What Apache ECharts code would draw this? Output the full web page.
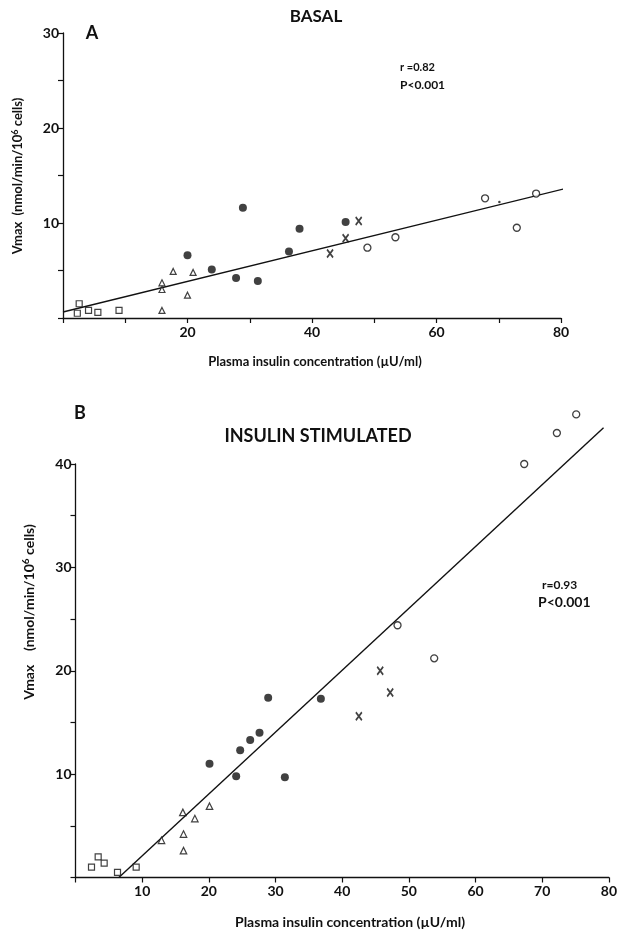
<!DOCTYPE html>
<html>
<head>
<meta charset="utf-8">
<script src="https://cdn.jsdelivr.net/npm/echarts@6/dist/echarts.min.js"></script>
<style>
html,body{margin:0;padding:0;background:#fff;}
#chart{width:620px;height:935px;}
</style>
</head>
<body>
<div id="chart"></div>
<script>
// ---- Panel A: BASAL ----
var basalSquares   = [[2.6,1.5],[2.3,0.5],[4.1,0.8],[5.6,0.6],[9.0,0.8]];
var basalTriangles = [[15.9,3.7],[15.9,3.0],[15.9,0.8],[17.7,4.9],[20.9,4.8],[20.0,2.4]];
var basalFilled    = [[20.0,6.6],[23.9,5.1],[27.8,4.2],[28.9,11.6],[31.3,3.9],[36.3,7.0],[38.0,9.4],[45.4,10.1]];
var basalCross     = [[42.9,6.8],[45.4,8.4],[47.5,10.2]];
var basalOpen      = [[48.9,7.4],[53.4,8.5],[67.8,12.6],[72.9,9.5],[76.0,13.1]];
var basalDot       = [[70.1,12.2]];
var basalFit       = [[0,0.63],[83,14.0]];
var basalXTicks    = [20,40,60,80];
var basalYTicks    = [10,20,30];

// ---- Panel B: INSULIN STIMULATED ----
var stimSquares   = [[2.4,1.0],[3.4,2.0],[4.3,1.4],[6.3,0.5],[9.1,1.0]];
var stimTriangles = [[12.9,3.6],[16.1,6.3],[16.2,4.2],[16.2,2.6],[17.9,5.7],[20.1,6.9]];
var stimFilled    = [[20.1,11.0],[24.1,9.8],[24.7,12.3],[26.2,13.3],[27.6,14.0],[28.9,17.4],[31.4,9.7],[36.8,17.3]];
var stimCross     = [[42.5,15.6],[45.7,20.0],[47.2,17.9]];
var stimOpen      = [[48.3,24.4],[53.8,21.2],[67.3,40.0],[72.2,43.0],[75.1,44.8]];
var stimFit       = [[6.5,0],[79.2,43.5]];
var stimXTicks    = [10,20,30,40,50,60,70,80];
var stimYTicks    = [10,20,30,40];

var FONT = 'Lato, "Open Sans", sans-serif';
var chart = echarts.init(document.getElementById('chart'), null, {renderer:'canvas'});

function axisCommon(labels){
  return {
    type:'value',
    axisLine:{show:true,onZero:false,lineStyle:{color:'#111',width:1.3}},
    axisTick:{show:true,length:5,lineStyle:{color:'#111',width:1.2}},
    splitLine:{show:false},
    axisLabel:{color:'#111',fontFamily:FONT,fontWeight:'bold',fontSize:14,margin:7,
      formatter:function(v){return labels.indexOf(v)>=0?String(v):'';}}
  };
}
var xa = axisCommon(basalXTicks); xa.gridIndex=0; xa.min=0; xa.max=80; xa.interval=10;
var ya = axisCommon(basalYTicks); ya.gridIndex=0; ya.min=0; ya.max=30; ya.interval=5;
var xb = axisCommon(stimXTicks); xb.gridIndex=1; xb.min=0; xb.max=80; xb.interval=10;
var yb = axisCommon(stimYTicks); yb.gridIndex=1; yb.min=0; yb.max=40; yb.interval=5;
ya.axisLabel.margin=4; yb.axisLabel.margin=4;

var crossPath = 'path://M0,0L8,10M8,0L0,10';
function sc(name, data, idx, symbol, size, fill, bw){
  return {type:'scatter', name:name, xAxisIndex:idx, yAxisIndex:idx, data:data, clip:false,
    symbol:symbol, symbolSize:size, z:3,
    itemStyle:{color:fill, borderColor:'#111', borderWidth:bw}};
}
function fit(data, idx){
  return {type:'line', data:data, xAxisIndex:idx, yAxisIndex:idx, symbol:'none', clip:false, z:2,
    lineStyle:{color:'#111',width:1.4}, silent:true};
}

var option = {
  backgroundColor:'#fff',
  animation:false,
  grid:[
    {left:63, top:33, width:498, height:285},
    {left:75.5, top:464, width:536.5, height:413.5}
  ],
  xAxis:[xa, xb],
  yAxis:[ya, yb],
  series:[
    fit(basalFit,0),
    sc('sq',basalSquares,0,'rect',6,'#fff',1.2),
    sc('tri',basalTriangles,0,'triangle',6,'#fff',1.2),
    sc('fc',basalFilled,0,'circle',8,'#111',0),
    sc('x',basalCross,0,crossPath,[6,8],'none',1.8),
    sc('oc',basalOpen,0,'circle',7,'#fff',1.3),
    sc('dot',basalDot,0,'circle',2.5,'#111',0),
    fit(stimFit,1),
    sc('sq',stimSquares,1,'rect',6,'#fff',1.2),
    sc('tri',stimTriangles,1,'triangle',6.5,'#fff',1.2),
    sc('fc',stimFilled,1,'circle',8,'#111',0),
    sc('x',stimCross,1,crossPath,[6,8],'none',1.8),
    sc('oc',stimOpen,1,'circle',7,'#fff',1.3)
  ],
  graphic:[
    {type:'text', x:316, y:17, style:{text:'BASAL', font:'bold 17px '+FONT, fill:'#111', textAlign:'center', textVerticalAlign:'middle'}},
    {type:'text', x:92, y:33, style:{text:'A', font:'bold 18px '+FONT, fill:'#111', textAlign:'center', textVerticalAlign:'middle'}},
    {type:'text', x:400, y:67, style:{text:'r =0.82', font:'bold 11px '+FONT, fill:'#111', textAlign:'left', textVerticalAlign:'middle'}},
    {type:'text', x:400, y:85, style:{text:'P<0.001', font:'bold 12px '+FONT, fill:'#111', textAlign:'left', textVerticalAlign:'middle'}},
    {type:'text', x:18, y:176, rotation:Math.PI/2,
      style:{text:'{t|Vmax  (nmol/min/10}{s|6}{t| cells)}', textAlign:'center', textVerticalAlign:'middle', fill:'#111',
        rich:{t:{font:'bold 13px '+FONT, fill:'#111'}, s:{font:'bold 9px '+FONT, fill:'#111', verticalAlign:'top', padding:[0,0,6,0]}}}},
    {type:'text', x:315, y:362, style:{text:'Plasma insulin concentration (\u00b5U/ml)', font:'bold 13px '+FONT, fill:'#111', textAlign:'center', textVerticalAlign:'middle'}},

    {type:'text', x:80, y:413, style:{text:'B', font:'bold 18px '+FONT, fill:'#111', textAlign:'center', textVerticalAlign:'middle'}},
    {type:'text', x:318, y:436, style:{text:'INSULIN STIMULATED', font:'bold 18px '+FONT, fill:'#111', textAlign:'center', textVerticalAlign:'middle'}},
    {type:'text', x:542, y:585, style:{text:'r=0.93', font:'bold 12px '+FONT, fill:'#111', textAlign:'left', textVerticalAlign:'middle'}},
    {type:'text', x:538, y:602, style:{text:'P<0.001', font:'bold 14px '+FONT, fill:'#111', textAlign:'left', textVerticalAlign:'middle'}},
    {type:'text', x:29, y:612, rotation:Math.PI/2,
      style:{text:'{t|Vmax    (nmol/min/10}{s|6}{t| cells)}', textAlign:'center', textVerticalAlign:'middle', fill:'#111',
        rich:{t:{font:'bold 14px '+FONT, fill:'#111'}, s:{font:'bold 10px '+FONT, fill:'#111', verticalAlign:'top', padding:[0,0,6,0]}}}},
    {type:'text', x:350, y:922, style:{text:'Plasma insulin concentration (\u00b5U/ml)', font:'bold 14px '+FONT, fill:'#111', textAlign:'center', textVerticalAlign:'middle'}}
  ]
};
chart.setOption(option);
</script>
</body>
</html>
